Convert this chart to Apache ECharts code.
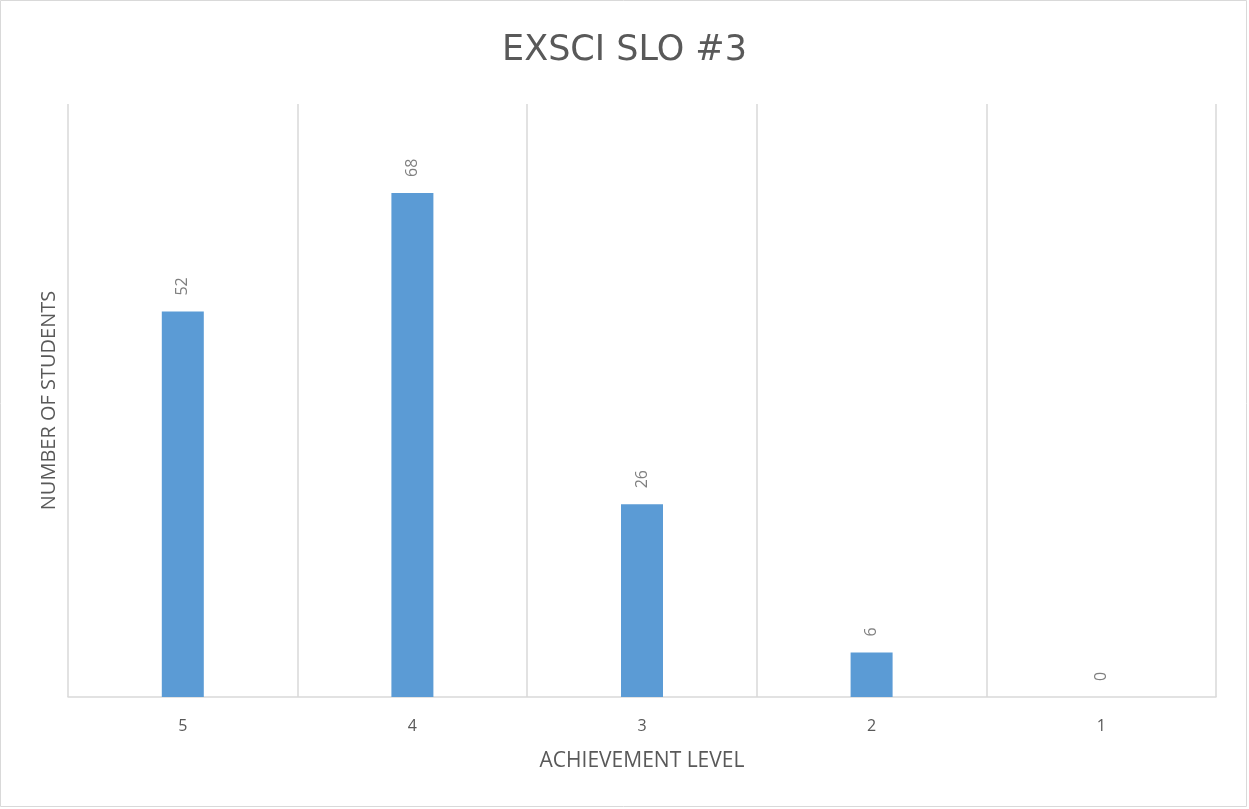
<!DOCTYPE html>
<html>
<head>
<meta charset="utf-8">
<script src="https://cdn.jsdelivr.net/npm/echarts@6/dist/echarts.min.js"></script>
<style>
  html, body { margin: 0; padding: 0; background: #fff; }
  #chart { width: 1249px; height: 809px; }
</style>
</head>
<body>
<div id="chart"></div>
<script>
// Achievement levels and student counts
const levels = ['5', '4', '3', '2', '1'];
const students = [52, 68, 26, 6, 0];

const chart = echarts.init(document.getElementById('chart'));
const textFont = '"Open Sans", "Liberation Sans", sans-serif';

chart.setOption({
  backgroundColor: '#ffffff',
  animation: false,
  title: {
    text: 'EXSCI SLO #3',
    left: 'center',
    top: 28,
    textStyle: {
      fontFamily: '"DejaVu Sans", "Open Sans", sans-serif',
      fontSize: 35,
      fontWeight: 'normal',
      color: '#595959'
    }
  },
  graphic: [{
    type: 'rect',
    shape: { x: 0.5, y: 0.5, width: 1246, height: 806 },
    style: { fill: 'none', stroke: '#d9d9d9', lineWidth: 1 },
    silent: true
  }],
  grid: { left: 68, right: 33, top: 104, bottom: 112 },
  xAxis: {
    type: 'category',
    data: levels,
    boundaryGap: true,
    name: 'ACHIEVEMENT LEVEL',
    nameLocation: 'middle',
    nameGap: 54,
    nameTextStyle: { fontFamily: textFont, fontSize: 21, color: '#595959' },
    axisLine: { show: true, lineStyle: { color: '#d9d9d9', width: 1.5 } },
    axisTick: { show: false },
    axisLabel: { fontFamily: textFont, fontSize: 16, color: '#595959', margin: 21 },
    splitLine: { show: true, lineStyle: { color: '#d9d9d9', width: 1.5 } }
  },
  yAxis: {
    type: 'value',
    min: 0,
    max: 80,
    interval: 10,
    name: 'NUMBER OF STUDENTS',
    nameLocation: 'middle',
    nameGap: 9,
    nameTextStyle: { fontFamily: textFont, fontSize: 20, color: '#595959' },
    axisLine: { show: false },
    axisTick: { show: false },
    axisLabel: { show: false },
    splitLine: { show: false }
  },
  series: [{
    type: 'bar',
    data: students,
    barWidth: 42,
    itemStyle: { color: '#5b9bd5' },
    label: {
      show: true,
      position: 'top',
      rotate: 90,
      align: 'left',
      verticalAlign: 'middle',
      distance: 16,
      fontFamily: textFont,
      fontSize: 16,
      color: '#7f7f7f'
    }
  }]
});
</script>
</body>
</html>
